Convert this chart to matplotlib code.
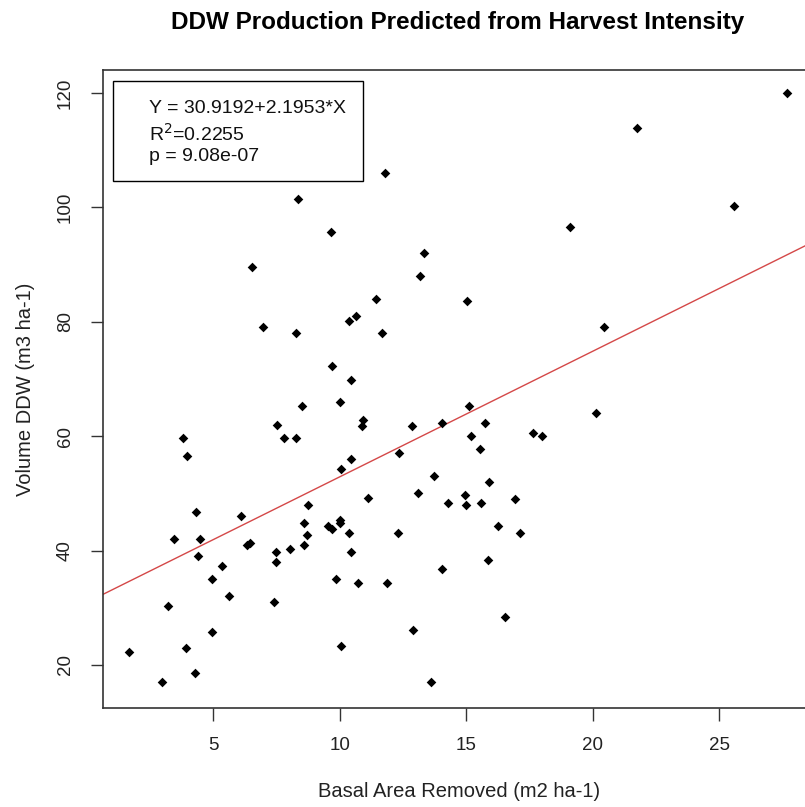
import matplotlib
matplotlib.use("Agg")
import matplotlib.pyplot as plt
from matplotlib.patches import Rectangle

plt.rcParams['font.family'] = ['Liberation Sans', 'DejaVu Sans']

# Data
basal_area = [27.7, 21.75, 25.57, 19.1, 11.8, 8.35, 9.66, 6.53, 11.44, 13.33,
              13.17, 15.05, 6.96, 8.29, 10.36, 10.63, 11.69, 9.72, 10.47, 8.53,
              10.0, 7.52, 7.82, 8.26, 3.81, 3.97, 10.47, 10.07, 10.93, 10.88,
              12.87, 14.03, 15.1, 15.76, 15.2, 15.55, 17.63, 18.0, 20.12, 20.44,
              12.35, 13.72, 15.91, 13.11, 14.94, 16.93, 11.13, 14.99, 14.29, 15.6,
              4.32, 3.46, 4.47, 4.42, 6.1, 6.34, 6.47, 5.34, 4.95, 5.64,
              3.21, 4.95, 1.68, 3.92, 4.28, 3.0, 8.75, 8.6, 8.7, 8.6,
              8.03, 7.48, 7.48, 7.41, 9.56, 9.72, 10.0, 10.0, 10.39, 10.47,
              9.86, 10.06, 12.29, 16.26, 17.13, 15.85, 10.73, 11.89, 14.03, 16.52,
              12.92, 13.62]
volume_ddw = [119.9, 113.8, 100.3, 96.5, 106.0, 101.5, 95.6, 89.6, 83.9, 92.0,
              88.0, 83.6, 79.1, 78.0, 80.1, 81.0, 78.0, 72.2, 69.9, 65.2,
              65.9, 61.9, 59.6, 59.6, 59.6, 56.6, 56.0, 54.2, 62.9, 61.8,
              61.8, 62.3, 65.2, 62.3, 60.0, 57.8, 60.6, 60.0, 64.1, 79.1,
              57.1, 53.0, 51.9, 50.1, 49.7, 49.0, 49.1, 47.9, 48.3, 48.3,
              46.7, 42.0, 42.0, 39.1, 46.0, 40.9, 41.4, 37.3, 35.0, 32.1,
              30.3, 25.8, 22.2, 22.9, 18.6, 17.0, 47.9, 44.9, 42.7, 40.9,
              40.2, 39.8, 38.0, 31.0, 44.3, 43.8, 45.3, 44.9, 43.1, 39.7,
              35.0, 23.3, 43.1, 44.3, 43.1, 38.4, 34.4, 34.4, 36.8, 28.4,
              26.2, 17.0]
intercept = 30.9192
slope = 2.1953
r_squared = 0.2255
p_value = "9.08e-07"
x_ticks = [5, 10, 15, 20, 25]
y_ticks = [20, 40, 60, 80, 100, 120]

W, H = 805, 807
fig = plt.figure(figsize=(W / 100, H / 100), dpi=100)
left, right, bottom, top = 103, 816, 708, 70
ax = fig.add_axes([left / W, 1 - bottom / H, (right - left) / W, (bottom - top) / H])

ax.scatter(basal_area, volume_ddw, marker='D', s=24, color='black', linewidths=0, zorder=3)
ax.axline((0, intercept), slope=slope, color='#d44848', linewidth=1.0, zorder=2)

ax.set_xlim(0.65, 28.83)
ax.set_ylim(12.48, 124.0)
ax.set_xticks(x_ticks)
ax.set_yticks(y_ticks)
ax.tick_params(axis='both', direction='out', length=9, width=1.0, color='#333333',
               labelsize=13.5, labelcolor='#222222')
ax.tick_params(axis='x', pad=12)
ax.tick_params(axis='y', pad=12)
for lab in ax.get_yticklabels():
    lab.set_rotation(90)
    lab.set_va('center')
for sp in ax.spines.values():
    sp.set_color('#333333')
    sp.set_linewidth(1.2)

ax.set_xlabel('Basal Area Removed (m2 ha-1)', fontsize=14.5, color='#222222', labelpad=20)
ax.set_ylabel('Volume DDW (m3 ha-1)', fontsize=14.5, color='#222222', labelpad=16)

fig.text(458 / W, 1 - 22 / H, 'DDW Production Predicted from Harvest Intensity',
         ha='center', va='center', fontsize=17.5, fontweight='bold', color='black')

# annotation box
bx0, bx1, by0, by1 = 113, 363, 81, 181
ax_w = right - left
ax_h = bottom - top
rect = Rectangle(((bx0 - left) / ax_w, (bottom - by1) / ax_h),
                 (bx1 - bx0) / ax_w, (by1 - by0) / ax_h,
                 transform=ax.transAxes, fill=False, edgecolor='black', linewidth=1.0, zorder=4)
ax.add_patch(rect)
tx = (149 - left) / ax_w
ax.text(tx, (bottom - 108) / ax_h, f'Y = {intercept:.4f}+{slope:.4f}*X', transform=ax.transAxes,
        fontsize=14, va='center', ha='left', color='#111111')
ax.text(tx, (bottom - 134) / ax_h, f'R$^2$={r_squared:.4f}', transform=ax.transAxes,
        fontsize=14, va='center', ha='left', color='#111111')
ax.text(tx, (bottom - 156) / ax_h, f'p = {p_value}', transform=ax.transAxes,
        fontsize=14, va='center', ha='left', color='#111111')

fig.savefig('out.png', dpi=100)
